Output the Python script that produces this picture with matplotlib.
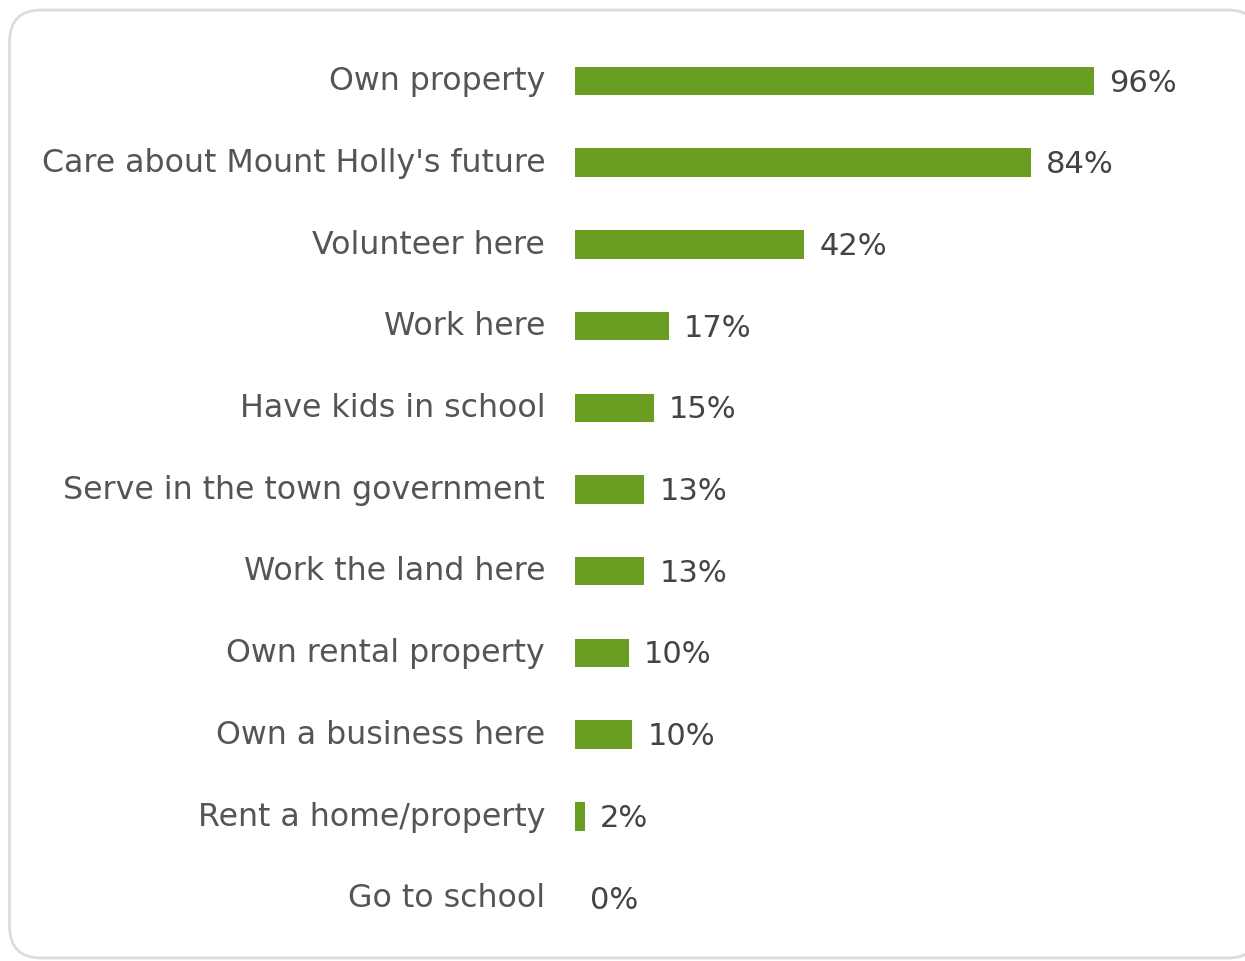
import matplotlib
matplotlib.use("Agg")
import matplotlib.pyplot as plt
from matplotlib.patches import FancyBboxPatch
from matplotlib.transforms import IdentityTransform

categories = [
    "Own property",
    "Care about Mount Holly's future",
    "Volunteer here",
    "Work here",
    "Have kids in school",
    "Serve in the town government",
    "Work the land here",
    "Own rental property",
    "Own a business here",
    "Rent a home/property",
    "Go to school",
]
values = [95.8, 84.1, 42.3, 17.3, 14.5, 12.8, 12.8, 9.9, 10.5, 1.8, 0.0]
value_labels = ["96%", "84%", "42%", "17%", "15%", "13%", "13%", "10%", "10%", "2%", "0%"]

W, H = 1245, 961
fig = plt.figure(figsize=(W / 100, H / 100), dpi=100)
fig.patch.set_facecolor("white")

# rounded frame
frame = FancyBboxPatch((9.5, 3), 1250, 948, boxstyle="round,pad=0,rounding_size=32",
                       transform=IdentityTransform(), facecolor="white",
                       edgecolor="#dcdcdc", linewidth=2.0, zorder=-10)
fig.patches.append(frame)

ax = fig.add_axes([575 / W, 1 - 938.85 / H, 542 / W, (938.85 - 40.15) / H])
ax.set_facecolor("none")
ax.set_zorder(5)
ypos = list(range(len(categories)))
ax.barh(ypos, values, height=0.35, color="#6a9e22", edgecolor="none")
ax.set_xlim(0, 100)
ax.set_ylim(len(categories) - 0.5, -0.5)
ax.set_yticks(ypos)
ax.set_yticklabels([])
ax.tick_params(axis="y", length=0)
ax.set_xticks([])
for s in ax.spines.values():
    s.set_visible(False)

for y, cat in zip(ypos, categories):
    ax.annotate(cat, xy=(0, y), xytext=(-21.5, 2), textcoords="offset points",
                ha="right", va="center_baseline", fontsize=22.8, color="#555555",
                family="DejaVu Sans", annotation_clip=False)

for y, v, lab in zip(ypos, values, value_labels):
    ax.annotate(lab, xy=(v, y), xytext=(11, -1.5), textcoords="offset points",
                ha="left", va="center", fontsize=22, color="#444444",
                family="DejaVu Sans", annotation_clip=False)

fig.savefig("out.png", dpi=100, facecolor="white")
